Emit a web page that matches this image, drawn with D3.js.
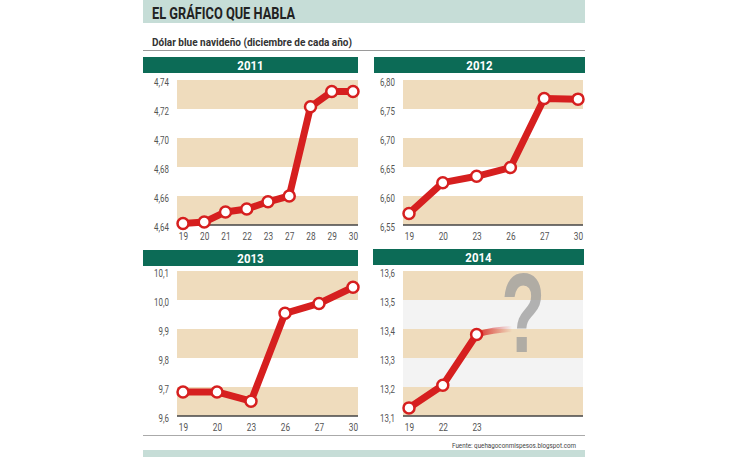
<!DOCTYPE html>
<html><head><meta charset="utf-8">
<script src="https://cdn.jsdelivr.net/npm/d3@7"></script>
<style>
html,body{margin:0;padding:0;background:#fff;}
svg{display:block;}
</style></head>
<body>
<svg id="chart" width="730" height="460"></svg>
<script>
// ---- data ----
const title = "EL GRÁFICO QUE HABLA";
const subtitle = "Dólar blue navideño (diciembre de cada año)";
const source = "Fuente: quehagoconmispesos.blogspot.com";

const years = ["2011", "2012", "2013", "2014"];

const days2011 = ["19", "20", "21", "22", "23", "27", "28", "29", "30"];
const values2011 = [4.641, 4.642, 4.649, 4.651, 4.656, 4.660, 4.7215, 4.732, 4.732];
const ticks2011 = [4.64, 4.66, 4.68, 4.70, 4.72, 4.74];

const days2012 = ["19", "20", "23", "26", "27", "30"];
const values2012 = [6.570, 6.623, 6.634, 6.649, 6.768, 6.767];
const ticks2012 = [6.55, 6.60, 6.65, 6.70, 6.75, 6.80];

const days2013 = ["19", "20", "23", "26", "27", "30"];
const values2013 = [9.683, 9.683, 9.651, 9.954, 9.988, 10.044];
const ticks2013 = [9.6, 9.7, 9.8, 9.9, 10.0, 10.1];

const days2014 = ["19", "22", "23"];
const values2014 = [13.128, 13.206, 13.381];
const ticks2014 = [13.1, 13.2, 13.3, 13.4, 13.5, 13.6];

// ---- layout / style ----
const svg = d3.select("#chart");
const FONT = "Roboto, 'Liberation Sans', Arial, sans-serif";
const GREEN = "#0c6b56";
const TEAL = "#c6ddd7";
const TAN = "#efdcbd";
const RED = "#d61f1f";

function condense(sel, k) {
  sel.each(function () {
    const w = this.getComputedTextLength();
    if (w > 0) d3.select(this).attr("textLength", w * k).attr("lengthAdjust", "spacingAndGlyphs");
  });
}

const defs = svg.append("defs");
const grad = defs.append("linearGradient").attr("id", "fade").attr("x1", "0%").attr("x2", "100%").attr("y1", "0%").attr("y2", "0%");
grad.append("stop").attr("offset", "0%").attr("stop-color", RED).attr("stop-opacity", 0.9);
grad.append("stop").attr("offset", "100%").attr("stop-color", RED).attr("stop-opacity", 0);

// header band
svg.append("rect").attr("x", 143).attr("y", 0).attr("width", 442).attr("height", 23).attr("fill", TEAL);
svg.append("text").attr("x", 152).attr("y", 18.5).text(title)
  .attr("font-family", FONT).attr("font-weight", "bold").attr("font-size", 17).attr("fill", "#222")
  .attr("textLength", 143).attr("lengthAdjust", "spacingAndGlyphs");
svg.append("text").attr("x", 152).attr("y", 46).text(subtitle)
  .attr("font-family", FONT).attr("font-weight", "bold").attr("font-size", 11.5).attr("fill", "#333")
  .attr("textLength", 200).attr("lengthAdjust", "spacingAndGlyphs");
svg.append("line").attr("x1", 143).attr("x2", 585).attr("y1", 50.5).attr("y2", 50.5).attr("stroke", "#9a9a9a").attr("stroke-width", 1);

// bottom
svg.append("line").attr("x1", 143).attr("x2", 585).attr("y1", 435.5).attr("y2", 435.5).attr("stroke", "#aaa").attr("stroke-width", 1);
svg.append("text").attr("x", 576).attr("y", 448).attr("text-anchor", "end").text(source)
  .attr("font-family", FONT).attr("font-size", 8).attr("fill", "#444")
  .attr("textLength", 124).attr("lengthAdjust", "spacingAndGlyphs");
svg.append("rect").attr("x", 143).attr("y", 450).attr("width", 442).attr("height", 7).attr("fill", TEAL);

const panels = [
  {year: years[0], days: days2011, values: values2011, ticks: ticks2011, fmt: ",.2f", slots: 9,
   hx: 143, hw: 215, hy: 57, px0: 177, px1: 358, py0: 80, py1: 225},
  {year: years[1], days: days2012, values: values2012, ticks: ticks2012, fmt: ",.2f", slots: 6,
   hx: 374, hw: 211, hy: 57, px0: 403, px1: 583, py0: 80, py1: 225},
  {year: years[2], days: days2013, values: values2013, ticks: ticks2013, fmt: ",.1f", slots: 6,
   hx: 143, hw: 215, hy: 250, px0: 177, px1: 358, py0: 271, py1: 416},
  {year: years[3], days: days2014, values: values2014, ticks: ticks2014, fmt: ",.1f", slots: 6,
   hx: 373, hw: 211, hy: 249, px0: 403, px1: 583, py0: 271, py1: 416, future: true}
];

const locale = d3.formatLocale({decimal: ",", thousands: ".", grouping: [3], currency: ["$", ""]});

panels.forEach(p => {
  const g = svg.append("g");
  // header
  g.append("rect").attr("x", p.hx).attr("y", p.hy).attr("width", p.hw).attr("height", 16).attr("fill", GREEN);
  g.append("text").attr("x", p.hx + p.hw / 2).attr("y", p.hy + 12.5).attr("text-anchor", "middle")
    .text(p.year).attr("font-family", FONT).attr("font-weight", "bold").attr("font-size", 13).attr("fill", "#fff")
    .call(condense, 0.88);

  const y = d3.scaleLinear().domain([p.ticks[0], p.ticks[p.ticks.length - 1]]).range([p.py1, p.py0]);
  const x = d3.scalePoint().domain(d3.range(p.slots)).range([p.px0 + 6, p.px1 - 5]);

  // bands
  const n = p.ticks.length;
  for (let i = n - 1; i > 0; i -= 1) {
    const isTan = ((n - 1 - i) % 2) === 0;
    const fill = isTan ? TAN : (p.future ? "#f3f3f3" : "#fff");
    g.append("rect").attr("x", p.px0).attr("width", p.px1 - p.px0)
      .attr("y", y(p.ticks[i])).attr("height", y(p.ticks[i - 1]) - y(p.ticks[i])).attr("fill", fill);
  }
  // baseline
  g.append("line").attr("x1", p.px0).attr("x2", p.px1).attr("y1", p.py1).attr("y2", p.py1)
    .attr("stroke", "#444").attr("stroke-width", 1.5);

  // y axis
  const fmt = locale.format(p.fmt);
  const yAxis = d3.axisLeft(y).tickValues(p.ticks).tickFormat(fmt).tickSize(0).tickPadding(8);
  const ya = g.append("g").attr("transform", `translate(${p.px0},2)`).call(yAxis);
  ya.select(".domain").remove();
  ya.selectAll("text").attr("font-family", FONT).attr("font-size", 11).attr("fill", "#555").call(condense, 0.72);

  // x axis
  const xAxis = d3.axisBottom(x).tickSize(0).tickPadding(7).tickFormat(i => p.days[i] || "");
  const xa = g.append("g").attr("transform", `translate(0,${p.py1})`).call(xAxis);
  xa.select(".domain").remove();
  xa.selectAll("text").attr("font-family", FONT).attr("font-size", 11).attr("fill", "#555").call(condense, 0.75);

  // question mark + fade
  if (p.future) {
    const last = p.values.length - 1;
    const x0 = x(last), y0 = y(p.values[last]);
    const qx = x(last + 1) + (x(last + 2) - x(last + 1)) * 0.38;
    g.append("text").attr("x", qx - 22).attr("y", y(13.33) + 3)
      .text("?").attr("font-family", "'Liberation Sans', Arial, sans-serif").attr("font-weight", "bold")
      .attr("font-size", 114).attr("fill", "#9c9c9c").attr("opacity", 0.75)
      .attr("textLength", 44).attr("lengthAdjust", "spacingAndGlyphs");
    const x1 = x(last) + (x(last + 1) - x(last)) * 1.05;
    g.append("path")
      .attr("d", `M${x0},${y0} Q${(x0 + x1) / 2},${y(13.398)} ${x1},${y(13.4)}`)
      .attr("fill", "none").attr("stroke", "url(#fade)").attr("stroke-width", 6);
  }

  // line
  const line = d3.line().x((d, i) => x(i)).y(d => y(d));
  g.append("path").datum(p.values).attr("d", line).attr("fill", "none")
    .attr("stroke", RED).attr("stroke-width", 7).attr("stroke-linejoin", "round").attr("stroke-linecap", "round");
  g.selectAll("circle").data(p.values).join("circle")
    .attr("cx", (d, i) => x(i)).attr("cy", d => y(d)).attr("r", 5.5)
    .attr("fill", "#fff").attr("stroke", RED).attr("stroke-width", 2.5);
});
</script>
</body></html>
